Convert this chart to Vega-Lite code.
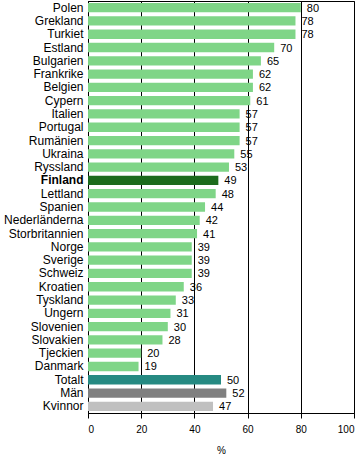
{
  "$schema": "https://vega.github.io/schema/vega-lite/v6.json",
  "autosize": "none",
  "width": 266,
  "height": 412,
  "padding": {"left": 88, "top": 1, "right": 10, "bottom": 43},
  "background": "white",
  "config": {
    "font": "Liberation Sans",
    "view": {"stroke": "black", "strokeWidth": 1},
    "axis": {"labelFont": "Liberation Sans", "titleFont": "Liberation Sans", "labelColor": "black", "titleColor": "black", "domainColor": "black", "tickColor": "black"}
  },
  "data": {
    "values": [
      {"land": "Polen", "andel": 80, "grupp": "Land"},
      {"land": "Grekland", "andel": 78, "grupp": "Land"},
      {"land": "Turkiet", "andel": 78, "grupp": "Land"},
      {"land": "Estland", "andel": 70, "grupp": "Land"},
      {"land": "Bulgarien", "andel": 65, "grupp": "Land"},
      {"land": "Frankrike", "andel": 62, "grupp": "Land"},
      {"land": "Belgien", "andel": 62, "grupp": "Land"},
      {"land": "Cypern", "andel": 61, "grupp": "Land"},
      {"land": "Italien", "andel": 57, "grupp": "Land"},
      {"land": "Portugal", "andel": 57, "grupp": "Land"},
      {"land": "Rumänien", "andel": 57, "grupp": "Land"},
      {"land": "Ukraina", "andel": 55, "grupp": "Land"},
      {"land": "Ryssland", "andel": 53, "grupp": "Land"},
      {"land": "Finland", "andel": 49, "grupp": "Finland"},
      {"land": "Lettland", "andel": 48, "grupp": "Land"},
      {"land": "Spanien", "andel": 44, "grupp": "Land"},
      {"land": "Nederländerna", "andel": 42, "grupp": "Land"},
      {"land": "Storbritannien", "andel": 41, "grupp": "Land"},
      {"land": "Norge", "andel": 39, "grupp": "Land"},
      {"land": "Sverige", "andel": 39, "grupp": "Land"},
      {"land": "Schweiz", "andel": 39, "grupp": "Land"},
      {"land": "Kroatien", "andel": 36, "grupp": "Land"},
      {"land": "Tyskland", "andel": 33, "grupp": "Land"},
      {"land": "Ungern", "andel": 31, "grupp": "Land"},
      {"land": "Slovenien", "andel": 30, "grupp": "Land"},
      {"land": "Slovakien", "andel": 28, "grupp": "Land"},
      {"land": "Tjeckien", "andel": 20, "grupp": "Land"},
      {"land": "Danmark", "andel": 19, "grupp": "Land"},
      {"land": "Totalt", "andel": 50, "grupp": "Totalt"},
      {"land": "Män", "andel": 52, "grupp": "Män"},
      {"land": "Kvinnor", "andel": 47, "grupp": "Kvinnor"}
    ]
  },
  "encoding": {
    "y": {
      "field": "land", "type": "nominal", "sort": null,
      "scale": {"paddingInner": 0.3, "paddingOuter": 0.15},
      "axis": {
        "title": null, "ticks": false, "labelPadding": 5, "labelFontSize": 12,
        "labelFontWeight": {"condition": {"test": "datum.value == 'Finland'", "value": "bold"}, "value": "normal"}
      }
    },
    "x": {
      "field": "andel", "type": "quantitative",
      "scale": {"domain": [0, 100], "nice": false},
      "axis": {
        "title": "%", "titleFontSize": 10, "titleFontWeight": "normal", "titlePadding": 11,
        "values": [0, 20, 40, 60, 80, 100], "tickSize": 5, "labelFontSize": 10, "labelPadding": 6,
        "grid": true, "gridColor": "black", "gridOpacity": 1, "gridWidth": 1
      }
    }
  },
  "layer": [
    {
      "mark": {"type": "bar"},
      "encoding": {
        "color": {
          "field": "grupp", "type": "nominal", "legend": null,
          "scale": {"domain": ["Land", "Finland", "Totalt", "Män", "Kvinnor"], "range": ["#7fd587", "#1c6b1c", "#268a82", "#808080", "#c0c0c0"]}
        }
      }
    },
    {
      "mark": {"type": "text", "align": "left", "baseline": "middle", "dx": 6, "dy": 1, "fontSize": 11, "color": "black"},
      "encoding": {"text": {"field": "andel", "type": "quantitative"}}
    }
  ]
}
